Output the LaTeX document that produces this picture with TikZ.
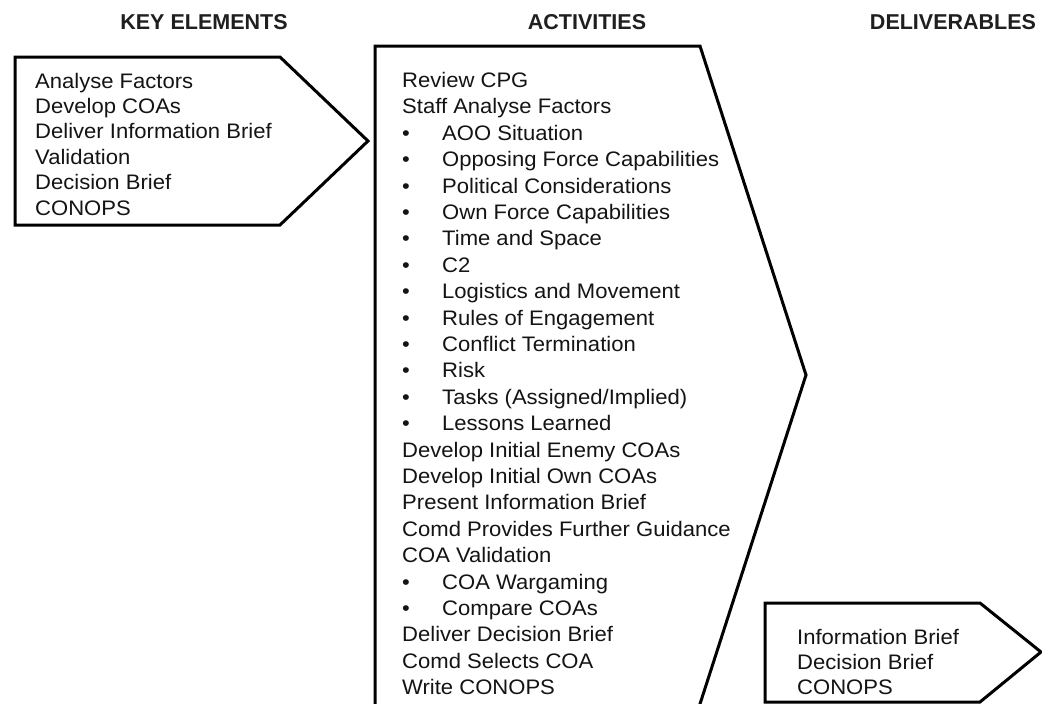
\documentclass[tikz,border=0pt]{standalone}
\usepackage{fontspec}
\setmainfont{Liberation Sans}
\newfontfamily\listfont[FakeStretch=1.05]{Liberation Sans}
\begin{document}
\begin{tikzpicture}[x=1pt,y=-1pt,
  frame/.style={draw=black, line width=3pt, line join=miter},
  item/.style={anchor=base west, inner sep=0pt, text=black!92,
    font=\listfont\fontsize{21}{25}\selectfont},
  head/.style={inner sep=0pt, text=black!88,
    font=\fontsize{21.5}{25}\selectfont\bfseries}]
\clip (0,0) rectangle (1042,704);
\fill[white] (0,0) rectangle (1042,704);

% column headings
\node[head] (h-key) at (204,22) {KEY ELEMENTS};
\node[head] (h-act) at (587,22) {ACTIVITIES};
\node[head] (h-del) at (953,22) {DELIVERABLES};

% key elements arrow
\draw[frame] (15,57) -- (280,57) -- (368,141) -- (280,225) -- (15,225) -- cycle;
\foreach \t [count=\i from 0] in {Analyse Factors, Develop COAs,
    Deliver Information Brief, Validation, Decision Brief, CONOPS}
  \node[item] (key-\i) at (35,88+25.4*\i) {\t};

% activities arrow (runs off the lower edge)
\draw[frame] (375,46) -- (700,46) -- (806,375) -- (690,735) -- (375,735) -- cycle;
\foreach \i/\t in {0/Review CPG, 1/Staff Analyse Factors,
    14/Develop Initial Enemy COAs, 15/Develop Initial Own COAs,
    16/Present Information Brief, 17/Comd Provides Further Guidance,
    18/COA Validation, 21/Deliver Decision Brief, 22/Comd Selects COA,
    23/Write CONOPS}
  \node[item] (act-\i) at (402,87.5+26.4*\i) {\t};
\foreach \i/\t in {2/AOO Situation, 3/Opposing Force Capabilities,
    4/Political Considerations, 5/Own Force Capabilities,
    6/Time and Space, 7/C2, 8/Logistics and Movement,
    9/Rules of Engagement, 10/Conflict Termination, 11/Risk,
    12/{Tasks (Assigned/Implied)}, 13/Lessons Learned,
    19/COA Wargaming, 20/Compare COAs}
  {
  \node[item] (dot-\i) at (402,87.5+26.4*\i) {\textbullet};
  \node[item] (act-\i) at (442,87.5+26.4*\i) {\t};
  }

% deliverables arrow
\draw[frame] (765,603) -- (980,603) -- (1041,652) -- (980,702) -- (765,702) -- cycle;
\foreach \t [count=\i from 0] in {Information Brief, Decision Brief, CONOPS}
  \node[item] (del-\i) at (797,644+25*\i) {\t};
\end{tikzpicture}
\end{document}
